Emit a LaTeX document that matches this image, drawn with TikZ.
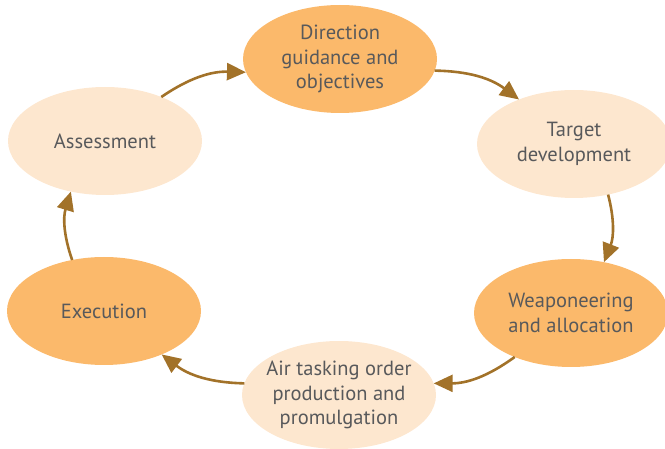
\documentclass[tikz,border=0pt]{standalone}
\usepackage{fontspec}
\setmainfont{PT Sans}
\usetikzlibrary{shapes.geometric,arrows.meta}
\definecolor{darkfill}{HTML}{FBB96B}
\definecolor{lightfill}{HTML}{FDE7CF}
\definecolor{txtgray}{HTML}{58595B}
\definecolor{arrowbrown}{HTML}{A27229}
\tikzset{
  stagetext/.style={align=center, text=txtgray, font=\fontsize{20.5}{24.5}\selectfont, inner sep=0pt},
  stage/.style={ellipse, minimum width=194pt, minimum height=108pt, inner sep=0pt, outer sep=0pt,
    label={[stagetext]center:#1}},
  darkstage/.style={stage=#1, fill=darkfill},
  lightstage/.style={stage=#1, fill=lightfill},
  flow/.style={draw=arrowbrown, line width=2.6pt, -{Triangle[length=19pt,width=17pt]}, bend left=18},
}
\begin{document}
\begin{tikzpicture}[x=1pt,y=-1pt]
\useasboundingbox (0,0) rectangle (665,449);
\node[darkstage={Direction\\guidance and\\objectives}]  (dir)  at (340,59)  {};
\node[lightstage={Target\\development}] (tgt)  at (574,144) {};
\node[darkstage={Weaponeering\\and allocation}]  (weap) at (571,313) {};
\node[lightstage={Air tasking order\\production and\\promulgation}] (air)  at (339,395) {};
\node[darkstage={Execution}]  (exe)  at (104,311) {};
\node[lightstage={Assessment}] (ass)  at (105,141) {};
\draw[flow] (ass.38) to (dir.188);
\draw[flow] (dir.353) to (tgt.141);
\draw[flow] (tgt.-56) to (weap.57);
\draw[flow] (weap.218) to (air.7);
\draw[flow] (air.173) to (exe.323);
\draw[flow] (exe.122) to (ass.236);
\end{tikzpicture}
\end{document}
